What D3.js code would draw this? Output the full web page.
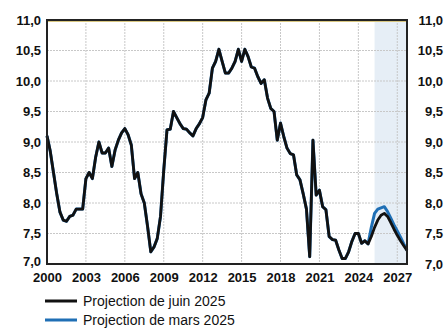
<!DOCTYPE html>
<html>
<head>
<meta charset="utf-8">
<script src="https://cdn.jsdelivr.net/npm/d3@7"></script>
<style>
  body { margin: 0; background: #fff; }
  svg text { font-family: "Liberation Sans", Arial, sans-serif; fill: #111; }
</style>
</head>
<body>
<svg id="drawing_region"></svg>
<script>
// taux de chômage trimestriel, 2000T1 -> 2027T4
const startYear = 2000;
const juin2025 = [
    9.1, 8.85, 8.5, 8.15,
    7.85, 7.72, 7.7, 7.78,
    7.8, 7.9, 7.9, 7.9,
    8.4, 8.5, 8.4, 8.75,
    9.0, 8.82, 8.82, 8.9,
    8.6, 8.87, 9.03, 9.15,
    9.22, 9.12, 8.95, 8.4,
    8.5, 8.15, 8.0, 7.62,
    7.2, 7.28, 7.42, 7.78,
    8.54, 9.2, 9.21, 9.5,
    9.4, 9.3, 9.22, 9.21,
    9.15, 9.1, 9.22, 9.3,
    9.4, 9.69, 9.8, 10.21,
    10.32, 10.52, 10.32, 10.13,
    10.13, 10.21, 10.32, 10.52,
    10.32, 10.52, 10.4, 10.23,
    10.21, 10.07, 9.96, 10.02,
    9.72, 9.55, 9.5, 9.03,
    9.31, 9.09, 8.9, 8.81,
    8.79, 8.46, 8.38, 8.15,
    7.9, 7.12, 9.03, 8.13,
    8.21, 7.94, 7.89, 7.45,
    7.4, 7.39, 7.23, 7.09,
    7.09, 7.2, 7.37, 7.5,
    7.5, 7.34, 7.38, 7.33,
    7.45, 7.6, 7.72, 7.8,
    7.83, 7.78, 7.68, 7.57,
    7.47, 7.38, 7.3, 7.22
];
// projection de mars : historique commun jusqu'en 2024T4, puis valeurs propres
const marsStart = 2024.75;
const mars2025 = [
    7.33, 7.6, 7.83, 7.9, 7.92, 7.94, 7.86, 7.75, 7.64, 7.54, 7.44, 7.33, 7.23
];
const projectionStart = 2025.25;
const xTicks = [2000, 2003, 2006, 2009, 2012, 2015, 2018, 2021, 2024, 2027];
const yTicks = [7.0, 7.5, 8.0, 8.5, 9.0, 9.5, 10.0, 10.5, 11.0];
const legendLabels = ["Projection de juin 2025", "Projection de mars 2025"];
const colors = ["#111", "#1f6fb5"];

var config = {
    width: 446,
    height: 332,
    margin: {top: 20, right: 39, bottom: 68, left: 47}
};

const svg = d3.select('#drawing_region')
    .attr('width', config.width)
    .attr('height', config.height);

const inner_width = config.width - config.margin.left - config.margin.right;
const inner_height = config.height - config.margin.top - config.margin.bottom;

const chart = svg.append('g')
    .attr('transform', `translate(${config.margin.left}, ${config.margin.top})`);

const xscale = d3.scaleLinear()
    .domain([2000, 2027.75])
    .range([0, inner_width]);

const yscale = d3.scaleLinear()
    .domain([7, 11])
    .range([inner_height, 0]);

const fmt = d => d3.format('.1f')(d).replace('.', ',');

// zone de projection
chart.append('rect')
    .attr('x', xscale(projectionStart))
    .attr('y', 0)
    .attr('width', xscale(2027.75) - xscale(projectionStart))
    .attr('height', inner_height)
    .attr('fill', '#e6eef6');

// grille
chart.append('g')
    .selectAll('line')
    .data(yTicks.slice(1, -1))
    .join('line')
    .attr('x1', 0).attr('x2', inner_width)
    .attr('y1', d => yscale(d)).attr('y2', d => yscale(d))
    .attr('stroke', '#c8c8c8')
    .attr('stroke-dasharray', '2,1');

chart.append('g')
    .selectAll('line')
    .data(xTicks.slice(1))
    .join('line')
    .attr('x1', d => xscale(d)).attr('x2', d => xscale(d))
    .attr('y1', 0).attr('y2', inner_height)
    .attr('stroke', '#c8c8c8')
    .attr('stroke-dasharray', '2,1');

// axes
const yaxisL = d3.axisLeft(yscale).tickValues(yTicks).tickFormat(fmt).tickSize(0).tickPadding(6);
const yaxisR = d3.axisRight(yscale).tickValues(yTicks).tickFormat(fmt).tickSize(0).tickPadding(36);
const xaxis = d3.axisBottom(xscale).tickValues(xTicks).tickFormat(d3.format('d')).tickSize(0).tickPadding(9);

const gl = chart.append('g').call(yaxisL);
const gr = chart.append('g').attr('transform', `translate(${inner_width}, 0)`).call(yaxisR);
const gx = chart.append('g').attr('transform', `translate(0, ${inner_height})`).call(xaxis);
[gl, gr, gx].forEach(g => {
    g.select('.domain').remove();
    g.selectAll('text').attr('font-size', 13).attr('font-weight', 'bold')
        .attr('font-family', '"Liberation Sans", Arial, sans-serif');
});
gr.selectAll('text').attr('text-anchor', 'end');
// premier libellé du bas remonté légèrement pour ne pas toucher "2000"
gl.selectAll('text').filter(d => d === 7).attr('dy', '0.1em');

// séries
const line = d3.line()
    .x(d => xscale(d.t))
    .y(d => yscale(d.v));

const black = juin2025.map((v, i) => ({t: startYear + i / 4, v: v}));
const blue = juin2025
    .map((v, i) => ({t: startYear + i / 4, v: v}))
    .filter(d => d.t < marsStart)
    .concat(mars2025.map((v, i) => ({t: marsStart + i / 4, v: v})));

chart.append('path')
    .datum(blue)
    .attr('d', line)
    .attr('fill', 'none')
    .attr('stroke', colors[1])
    .attr('stroke-width', 3)
    .attr('stroke-linejoin', 'round');

chart.append('path')
    .datum(black)
    .attr('d', line)
    .attr('fill', 'none')
    .attr('stroke', colors[0])
    .attr('stroke-width', 2.8)
    .attr('stroke-linejoin', 'round');

// cadre
chart.append('rect')
    .attr('x', 0).attr('y', 0)
    .attr('width', inner_width).attr('height', inner_height)
    .attr('fill', 'none')
    .attr('stroke', '#222')
    .attr('stroke-width', 2);
chart.append('line')
    .attr('x1', 1).attr('x2', inner_width - 1)
    .attr('y1', 1.5).attr('y2', 1.5)
    .attr('stroke', '#d8c680')
    .attr('stroke-width', 1);

// légende
const legend = svg.append('g')
    .attr('transform', 'translate(45, 301)');
legend.selectAll('g')
    .data(legendLabels)
    .join('g')
    .attr('transform', (d, i) => `translate(0, ${i * 19})`)
    .each(function(d, i) {
        const g = d3.select(this);
        g.append('line')
            .attr('x1', 0).attr('x2', 32)
            .attr('y1', 0).attr('y2', 0)
            .attr('stroke', colors[i])
            .attr('stroke-width', 3);
        g.append('text')
            .attr('x', 38).attr('y', 0)
            .attr('dy', '0.35em')
            .attr('font-size', 14)
            .text(d);
    });
</script>
</body>
</html>
